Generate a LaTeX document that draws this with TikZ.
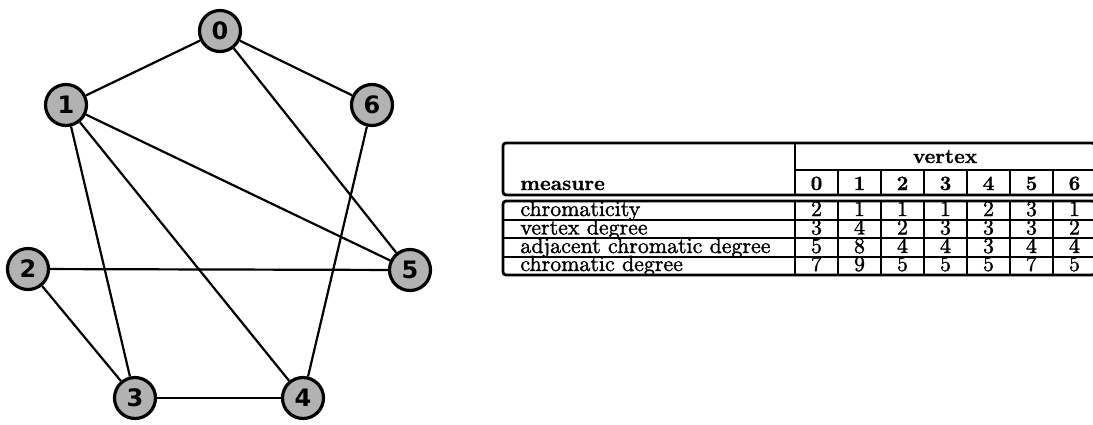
\documentclass[tikz,border=0pt]{standalone}
\usepackage{fontspec}
\newfontfamily\vtxfont{DejaVu Sans}
\newfontface\heavyrm{lmroman10-regular.otf}[RawFeature={embolden=1.4}]
\newfontface\heavybf{lmroman10-bold.otf}[RawFeature={embolden=0.8}]
\begin{document}
\begin{tikzpicture}[x=0.5pt,y=-0.5pt,
  vtx/.style={circle, draw, line width=1.6pt, fill=black!30, minimum size=20.5pt,
    inner sep=0pt, font=\vtxfont\bfseries\fontsize{12}{12}\selectfont},
  edge/.style={line width=1.1pt},
  frame/.style={line width=1.4pt, rounded corners=1.5pt},
  rule/.style={line width=0.75pt},
  cell/.style={inner sep=0pt, anchor=base, font=\heavyrm\fontsize{10.95}{12}\selectfont},
  label/.style={inner sep=0pt, anchor=base west, font=\heavyrm\fontsize{10.95}{12}\selectfont},
  head/.style={inner sep=0pt, anchor=base, font=\heavybf\fontsize{10.2}{12}\selectfont}]
\useasboundingbox (0,0) rectangle (1093,424);

% graph vertices
\node[vtx] (v0) at (220,31)  {0};
\node[vtx] (v1) at (66,105)  {1};
\node[vtx] (v6) at (372,105) {6};
\node[vtx] (v2) at (28,269)  {2};
\node[vtx] (v5) at (410,270) {5};
\node[vtx] (v3) at (135,398) {3};
\node[vtx] (v4) at (303,398) {4};

% graph edges
\foreach \a/\b in {v0/v1, v0/v6, v0/v5, v1/v5, v1/v3, v1/v4, v2/v5, v2/v3, v3/v4, v6/v4}
  \draw[edge] (\a) -- (\b);

% table frames and rules
\draw[frame] (503,143) rectangle (1095,195);
\draw[frame] (503,201) rectangle (1095,275);
\draw[line width=1pt] (795,143) -- (795,195);
\draw[rule] (795,170) -- (1095,170);
\draw[line width=1pt] (795,201) -- (795,275);
\foreach \x in {838,881,924,967,1010,1053} {
  \draw[rule] (\x,170) -- (\x,195);
  \draw[rule] (\x,201) -- (\x,275);
}
\foreach \y in {220,238,257}
  \draw[rule] (503,\y) -- (1095,\y);

% header text
\node[head] (vertex) at (945,163) {vertex};
\node[head, anchor=base west] (measure) at (520,190) {measure};
\foreach \d [count=\c from 0] in {0,...,6}
  \node[head] (h\d) at (816.5+43*\c,190) {\d};

% row labels and values
\foreach \name/\yb/\vals [count=\r] in {
    chromaticity/216/{2,1,1,1,2,3,1},
    vertex degree/234.5/{3,4,2,3,3,3,2},
    adjacent chromatic degree/253/{5,8,4,4,3,4,4},
    chromatic degree/271/{7,9,5,5,5,7,5}} {
  \node[label] (r\r) at (520,\yb) {\name};
  \foreach \v [count=\c from 0] in \vals
    \node[cell] (c\r-\c) at (816.5+43*\c,\yb) {\v};
}
\end{tikzpicture}
\end{document}
